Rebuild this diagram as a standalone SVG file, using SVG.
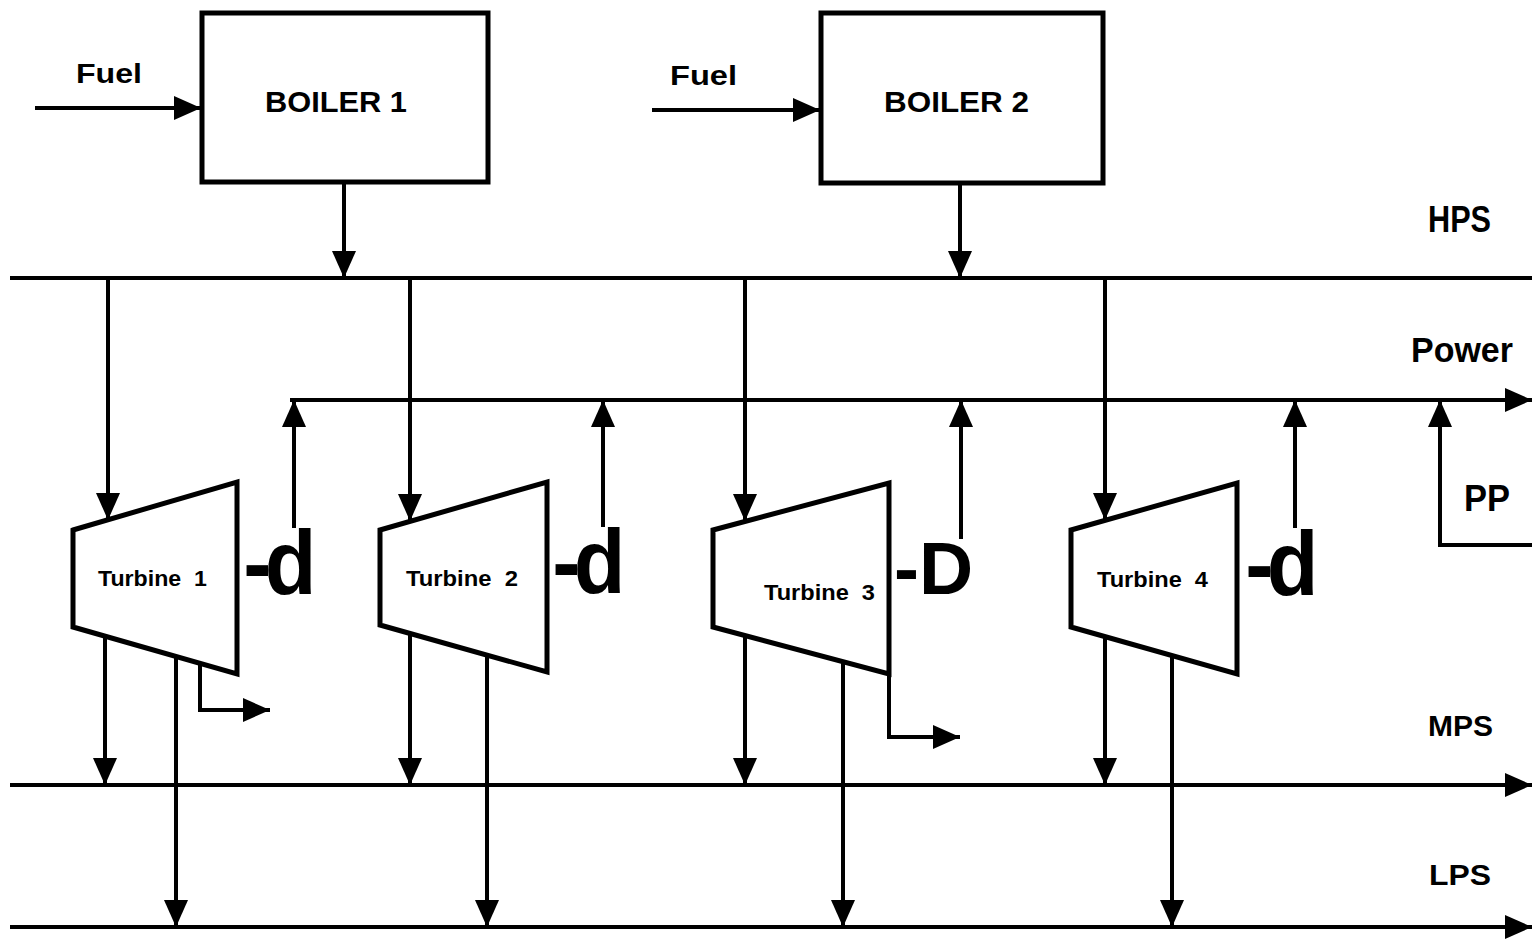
<svg xmlns="http://www.w3.org/2000/svg" width="1532" height="943" viewBox="0 0 1532 943">
<style>
text{font-family:"Liberation Sans",Arial,sans-serif;font-weight:bold;fill:#000}
.tl{font-size:22px}
.big{font-size:90px;letter-spacing:-7px}
.box{fill:#fff;stroke:#000;stroke-width:5;stroke-linejoin:miter}
.ln{fill:none;stroke:#000;stroke-width:4}
.ar{fill:none;stroke:#000;stroke-width:4;marker-end:url(#ah)}
</style>
<defs>
<marker id="ah" markerUnits="userSpaceOnUse" markerWidth="28" markerHeight="26" refX="27" refY="12" orient="auto">
<path d="M0,0 L27,12 L0,24 z" fill="#000"/>
</marker>
</defs>
<rect width="1532" height="943" fill="#fff"/>
<g id="connectors">
<path class="ar" d="M35,108 H201"/>
<path class="ar" d="M652,110 H820"/>
<path class="ar" d="M344,182 V278"/>
<path class="ar" d="M960,183 V278"/>
<path class="ln" d="M10,278 H1532"/>
<path class="ar" d="M108,278 V520"/>
<path class="ar" d="M410,278 V521"/>
<path class="ar" d="M745,278 V521"/>
<path class="ar" d="M1105,278 V520"/>
<path class="ar" d="M290,400 H1532"/>
<path class="ar" d="M294,528 V400"/>
<path class="ar" d="M603,527 V400"/>
<path class="ar" d="M961,539 V400"/>
<path class="ar" d="M1295,528 V400"/>
<path class="ar" d="M1532,545 H1440 V400"/>
<path class="ar" d="M105,636 V785"/>
<path class="ar" d="M176,657 V927"/>
<path class="ar" d="M200,663 V710 H270"/>
<path class="ar" d="M410,633 V785"/>
<path class="ar" d="M487,655 V927"/>
<path class="ar" d="M745,636 V785"/>
<path class="ar" d="M843,662 V927"/>
<path class="ar" d="M889,674 V737 H960"/>
<path class="ar" d="M1105,637 V785"/>
<path class="ar" d="M1172,656 V927"/>
<path class="ar" d="M10,785 H1532"/>
<path class="ar" d="M10,927 H1532"/>
</g>
<g id="boiler1">
<rect class="box" x="202" y="13" width="286" height="169"/>
<text x="265" y="112" font-size="30" textLength="142" lengthAdjust="spacingAndGlyphs">BOILER 1</text>
</g>
<g id="boiler2">
<rect class="box" x="821" y="13" width="282" height="170"/>
<text x="884" y="112" font-size="30" textLength="145" lengthAdjust="spacingAndGlyphs">BOILER 2</text>
</g>
<g id="labels">
<text x="76" y="83" font-size="28" textLength="66" lengthAdjust="spacingAndGlyphs">Fuel</text>
<text x="670" y="85" font-size="28" textLength="67" lengthAdjust="spacingAndGlyphs">Fuel</text>
<text x="1428" y="232" font-size="37" textLength="63" lengthAdjust="spacingAndGlyphs">HPS</text>
<text x="1411" y="362" font-size="35" textLength="102" lengthAdjust="spacingAndGlyphs">Power</text>
<text x="1464" y="511" font-size="36" textLength="46" lengthAdjust="spacingAndGlyphs">PP</text>
<text x="1428" y="736" font-size="29" textLength="65" lengthAdjust="spacingAndGlyphs">MPS</text>
<text x="1429" y="885" font-size="30" textLength="62" lengthAdjust="spacingAndGlyphs">LPS</text>
</g>
<g id="turbine1">
<polygon class="box" points="73,530 237,482 237,674 73,627"/>
<text class="tl" x="98" y="586" textLength="109" lengthAdjust="spacingAndGlyphs" xml:space="preserve">Turbine  1</text>
<text class="big" transform="translate(247,594) scale(0.94,1)" x="-4">-d</text>
</g>
<g id="turbine2">
<polygon class="box" points="380,530 547,482 547,672 380,625"/>
<text class="tl" x="406" y="586" textLength="112" lengthAdjust="spacingAndGlyphs" xml:space="preserve">Turbine  2</text>
<text class="big" transform="translate(556,593) scale(0.94,1)" x="-4">-d</text>
</g>
<g id="turbine3">
<polygon class="box" points="713,530 889,483 889,674 713,627"/>
<text class="tl" x="764" y="600" textLength="111" lengthAdjust="spacingAndGlyphs" xml:space="preserve">Turbine  3</text>
<text x="894" y="594" font-size="75">-D</text>
</g>
<g id="turbine4">
<polygon class="box" points="1071,530 1237,483 1237,674 1071,627"/>
<text class="tl" x="1097" y="587" textLength="111" lengthAdjust="spacingAndGlyphs" xml:space="preserve">Turbine  4</text>
<text class="big" transform="translate(1249,595) scale(0.94,1)" x="-4">-d</text>
</g>
</svg>
